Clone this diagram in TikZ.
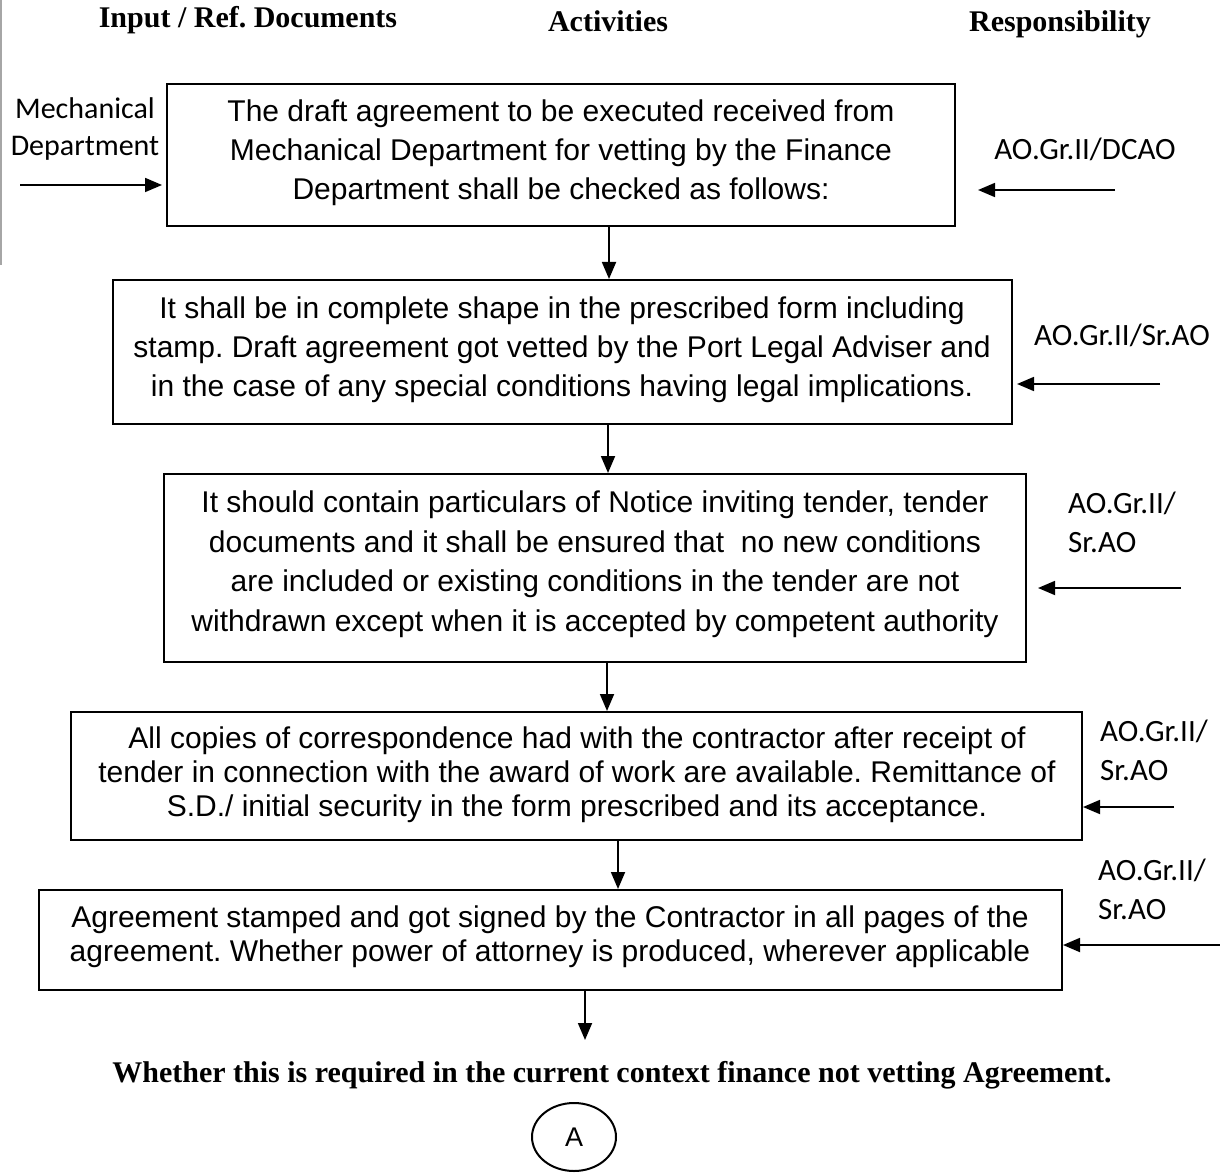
\documentclass[tikz,border=0pt]{standalone}
\usepackage{fontspec}
\setmainfont{Liberation Serif}
\newfontfamily\boxfont{Liberation Sans}
\newfontfamily\lblfont{Carlito}
\usetikzlibrary{arrows.meta,shapes.geometric,calc}
\frenchspacing
\begin{document}
\begin{tikzpicture}[x=1pt,y=-1pt,
  stepbox/.style={draw,line width=2pt,rectangle,inner sep=0pt},
  boxtext/.style={align=center,inner sep=0pt,font=\boxfont\fontsize{30}{39}\selectfont},
  arr/.style={line width=1.8pt,-{Stealth[length=17pt,width=14pt,inset=0pt]}},
  head/.style={font=\bfseries\fontsize{30}{34}\selectfont},
  resp/.style={font=\lblfont\fontsize{31}{39}\selectfont,align=left,inner sep=0pt},
]
\useasboundingbox (0,0) rectangle (1220,1174);
% scanned page edge
\draw[gray!70,line width=1.5pt] (1,0) -- (1,265);

% column headings
\node[head] (hin)  at (248,20) {Input / Ref. Documents};
\node[head] (hact) at (608,21) {Activities};
\node[head] (hres) at (1060,24) {Responsibility};

% activity boxes
\node[stepbox,minimum width=788,minimum height=142] (b1) at (561,155) {};
\node[boxtext] (t1) at (561,153)
  {The draft agreement to be executed received from\\
   Mechanical Department for vetting by the Finance\\
   Department shall be checked as follows:};

\node[stepbox,minimum width=899,minimum height=144] (b2) at (562.5,352) {};
\node[boxtext] (t2) at (562,350)
  {It shall be in complete shape in the prescribed form including\\
   stamp. Draft agreement got vetted by the Port Legal Adviser and\\
   in the case of any special conditions having legal implications.};

\node[stepbox,minimum width=862,minimum height=188] (b3) at (595,568) {};
\node[boxtext,font=\boxfont\fontsize{30}{39.5}\selectfont] (t3) at (595,564)
  {It should contain particulars of Notice inviting tender, tender\\
   documents and it shall be ensured that \ no new conditions\\
   are included or existing conditions in the tender are not\\
   withdrawn except when it is accepted by competent authority};

\node[stepbox,minimum width=1011,minimum height=128] (b4) at (576.5,776) {};
\node[boxtext,font=\boxfont\fontsize{30}{34}\selectfont] (t4) at (577,775)
  {All copies of correspondence had with the contractor after receipt of\\
   tender in connection with the award of work are available. Remittance of\\
   S.D./ initial security in the form prescribed and its acceptance.};

\node[stepbox,minimum width=1023,minimum height=100] (b5) at (550.5,940) {};
\node[boxtext,font=\boxfont\fontsize{30}{34}\selectfont] (t5) at (550,937)
  {Agreement stamped and got signed by the Contractor in all pages of the\\
   agreement. Whether power of attorney is produced, wherever applicable};

% closing remark and connector
\node[head] (note) at (612,1075)
  {Whether this is required in the current context finance not vetting Agreement.};
\node[draw,ellipse,line width=2pt,minimum width=84,minimum height=68,inner sep=0pt,
  font=\boxfont\fontsize{27}{30}\selectfont] (conA) at (574,1137) {A};

% flow between the boxes
\draw[arr] (609,0 |- b1.south) -- (609,0 |- b2.north);
\draw[arr] (608,0 |- b2.south) -- (608,0 |- b3.north);
\draw[arr] (607,0 |- b3.south) -- (607,0 |- b4.north);
\draw[arr] (618,0 |- b4.south) -- (618,0 |- b5.north);
\coordinate (end5) at (585,1040);
\draw[arr] (585,0 |- b5.south) -- (end5);

% input
\node[resp,align=center,font=\lblfont\fontsize{30}{37}\selectfont] (inp) at (85,129) {Mechanical\\Department};
\coordinate (in1) at (20,185);
\draw[arr,shorten >=4pt] (in1) -- (b1.west |- in1);

% responsibilities
\node[resp] (r1) at (1085,149) {AO.Gr.II/DCAO};
\coordinate (s1) at (1115,190);
\draw[arr,shorten >=22pt] (s1) -- (b1.east |- s1);

\node[resp] (r2) at (1122,335) {AO.Gr.II/Sr.AO};
\coordinate (s2) at (1160,384);
\draw[arr,shorten >=4pt] (s2) -- (b2.east |- s2);

\node[resp,anchor=west] (r3) at (1068,522) {AO.Gr.II/\\Sr.AO};
\coordinate (s3) at (1181,588);
\draw[arr,shorten >=11pt] (s3) -- (b3.east |- s3);

\node[resp,anchor=west] (r4) at (1100,750) {AO.Gr.II/\\Sr.AO};
\coordinate (s4) at (1174,807);
\draw[arr] (s4) -- (b4.east |- s4);

\node[resp,anchor=west] (r5) at (1098,889) {AO.Gr.II/\\Sr.AO};
\coordinate (s5) at (1220,945);
\draw[arr] (s5) -- (b5.east |- s5);
\end{tikzpicture}
\end{document}
